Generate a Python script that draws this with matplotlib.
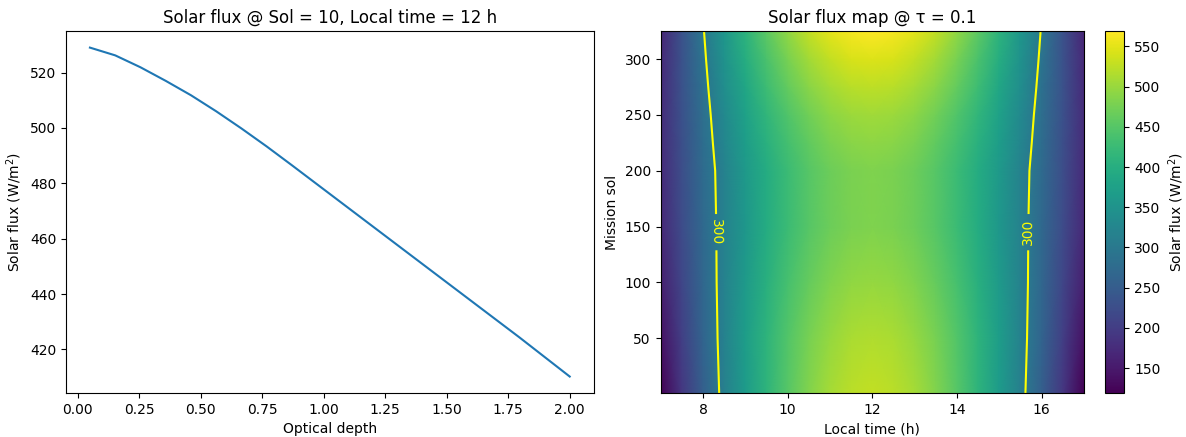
import numpy as np
import matplotlib
matplotlib.use("Agg")
import matplotlib.pyplot as plt

# ---- Left panel: flux vs optical depth (Sol 10, 12 h) ----
optical_depth = np.linspace(0.05, 2.0, 20)
flux_vs_tau = [529.0, 526.2, 521.9, 517.0, 511.8, 506.0, 499.8, 493.3, 486.5, 479.6,
               472.7, 465.8, 458.9, 452.0, 445.1, 438.2, 431.3, 424.4, 417.3, 410.2]

# ---- Right panel: flux map @ tau = 0.1 ----
local_time = np.arange(7.0, 17.01, 0.5)
mission_sol = [1, 50, 100, 150, 200, 225, 250, 275, 300, 325]
# values from 7 h to 12 h (the afternoon mirrors the morning)
morning_rows = [
    [119, 190, 254, 314, 365, 410, 450, 484, 508, 523, 528],
    [140, 203, 262, 317, 367, 410, 447, 476, 498, 511, 515],
    [156, 213, 267, 318, 363, 403, 436, 463, 482, 494, 498],
    [169, 221, 271, 317, 358, 395, 425, 450, 468, 478, 482],
    [173, 225, 274, 319, 360, 396, 426, 450, 468, 478, 482],
    [174, 227, 278, 325, 367, 404, 435, 460, 479, 489, 493],
    [175, 230, 282, 331, 374, 413, 445, 471, 490, 501, 505],
    [173, 232, 287, 339, 386, 427, 461, 489, 509, 521, 525],
    [170, 233, 292, 347, 397, 440, 477, 506, 528, 541, 545],
    [166, 233, 297, 356, 409, 456, 495, 527, 550, 563, 569],
]
flux_map = np.array([row + row[-2::-1] for row in morning_rows], dtype=float)
contour_level = [300]

fig = plt.figure(figsize=(11.86, 4.37), dpi=100)
ax1 = fig.add_axes([0.0556, 0.1007, 0.445, 0.828])
ax2 = fig.add_axes([0.557, 0.1007, 0.357, 0.828])
cax = fig.add_axes([0.932, 0.1007, 0.016, 0.828])

ax1.plot(optical_depth, flux_vs_tau, color="#1f77b4", lw=1.5)
ax1.set_xlabel("Optical depth")
ax1.set_ylabel("Solar flux (W/m$^2$)")
ax1.set_title("Solar flux @ Sol = 10, Local time = 12 h")

mesh = ax2.pcolormesh(local_time, mission_sol, flux_map, cmap="viridis",
                      shading="gouraud", vmin=flux_map.min(), vmax=flux_map.max())
cs = ax2.contour(local_time, mission_sol, flux_map, levels=contour_level,
                 colors="yellow", linewidths=1.5)
ax2.clabel(cs, fmt="%d", fontsize=10, manual=[(8.3, 145), (15.7, 145)])
ax2.set_xlabel("Local time (h)")
ax2.set_ylabel("Mission sol")
ax2.set_title("Solar flux map @ τ = 0.1")

cb = fig.colorbar(mesh, cax=cax)
cb.set_label("Solar flux (W/m$^2$)")

fig.savefig("out.png", dpi=100)
